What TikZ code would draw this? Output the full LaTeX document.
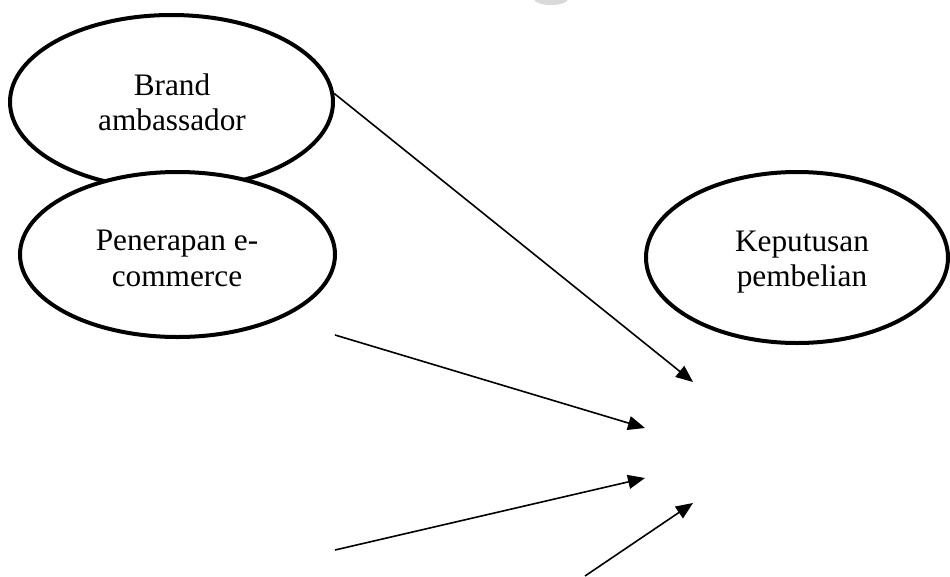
\documentclass[tikz,border=0pt]{standalone}
\usepackage{fontspec}
\setmainfont{Liberation Serif}
\usetikzlibrary{shapes.geometric,arrows.meta}
\begin{document}
\begin{tikzpicture}[x=1pt,y=-1pt,
  oval/.style={draw, ellipse, line width=4pt, fill=white, inner sep=0pt},
  lbl/.style={align=center, font=\fontsize{31.3}{35.7}\selectfont, inner sep=0pt},
  arr/.style={line width=1.6pt, -{Triangle[length=17pt,width=14pt]}}]
\useasboundingbox (0,0) rectangle (950,576);
\fill[gray!30] (551,-1) ellipse [x radius=17, y radius=6];
% ellipses
\node[oval, minimum width=323pt, minimum height=174pt] (e1) at (171.5,102) {};
\node[oval, minimum width=315pt, minimum height=165pt] (e2) at (177.5,254.5) {};
\node[oval, minimum width=302pt, minimum height=171pt] (e3) at (797,257.5) {};
% labels
\node[lbl] (l1) at (172,102.2) {Brand\\ambassador};
\node[lbl] (l2) at (177,258.5) {Penerapan e-\\commerce};
\node[lbl] (l3) at (802,262) {Keputusan\\pembelian};
% free ends
\coordinate (t1) at (693,382);
\coordinate (s2) at (335,335);
\coordinate (t2) at (645,428);
\coordinate (s3) at (335,550);
\coordinate (t3) at (645,478);
\coordinate (s4) at (585,576);
\coordinate (t4) at (693,503);
% arrows
\draw[arr] (e1.3) -- (t1);
\draw[arr] (s2) -- (t2);
\draw[arr] (s3) -- (t3);
\draw[arr] (s4) -- (t4);
\end{tikzpicture}
\end{document}
